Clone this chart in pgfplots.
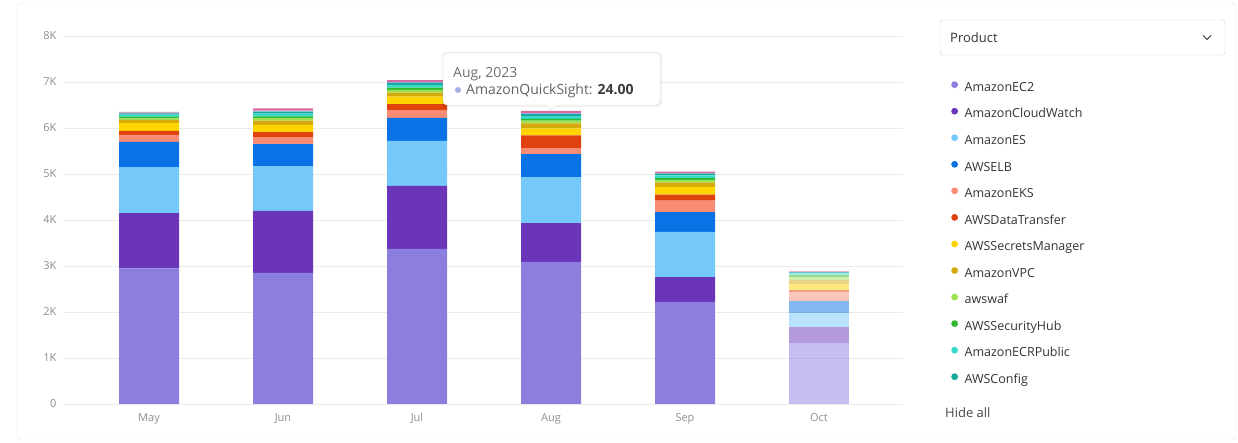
\documentclass[border=0pt]{standalone}
\usepackage{pgfplots}
\usepackage{pgfplotstable}
\pgfplotsset{compat=1.18}
\usepackage{fontspec}
\setmainfont{Open Sans}
\definecolor{cEC}{HTML}{8C7EDF}
\definecolor{cCW}{HTML}{6A35B8}
\definecolor{cES}{HTML}{74C8FA}
\definecolor{cELB}{HTML}{0B72E6}
\definecolor{cEKS}{HTML}{F98C74}
\definecolor{cDT}{HTML}{E0420F}
\definecolor{cSM}{HTML}{FFD400}
\definecolor{cVPC}{HTML}{D4A90C}
\definecolor{cWAF}{HTML}{9CE053}
\definecolor{cSH}{HTML}{2DB82D}
\definecolor{cECR}{HTML}{38DACC}
\definecolor{cCFG}{HTML}{17A899}
\definecolor{cQS}{HTML}{A6AEE6}
\definecolor{cOTH}{HTML}{D9689C}
\definecolor{gridc}{HTML}{EBEBEB}
\definecolor{tickc}{HTML}{8A8D93}
\definecolor{textc}{HTML}{333333}
\definecolor{cardc}{HTML}{E4E4E4}

\pgfplotstableread{
x  ec2  cw   es   elb  eks  dt   sm   vpc  waf  sh  ecr  cfg  qs  oth
0  2950 1200 1000 550  150  90   170  65   35   35  45   30   15  15
1  2850 1350 970  480  150  110  160  90   55   40  60   40   20  50
2  3370 1370 980  500  170  130  160  90   60   50  60   40   20  40
3  3090 840  1000 500  130  280  150  110  60   40  60   40   24  46
4  2220 540  980  430  250  130  170  90   60   40  60   40   10  30
}\maindata
\pgfplotstableread{
x  ec2  cw   es   elb  eks  dt   sm   vpc  waf  sh  ecr  cfg  qs  oth
5  1330 350  300  260  200  40   130  90   60   40  40   30   5   10
}\octdata

\begin{document}
\begin{tikzpicture}[x=1pt,y=1pt]
\path[use as bounding box] (0,0) rectangle (1238,443);
\draw[cardc, rounded corners=4pt] (17,3) rectangle (1236,440);

\pgfplotsset{
  commonax/.style={
    at={(63pt,39pt)}, anchor=south west,
    scale only axis, width=840pt, height=368pt,
    xmin=-0.642, xmax=5.627, ymin=0, ymax=8000,
    ybar stacked, bar width=60pt,
  }
}
\begin{axis}[commonax,
  axis line style={draw=none},
  major tick length=0pt,
  ymajorgrids, grid style={gridc, line width=0.8pt},
  ytick={0,1000,...,8000},
  yticklabels={0,1K,2K,3K,4K,5K,6K,7K,8K},
  xtick={0,1,2,3,4,5},
  xticklabels={May,Jun,Jul,Aug,Sep,Oct},
  /pgf/number format/assume math mode=true,
  yticklabel style={font=\fontsize{11}{13}\selectfont, color=tickc, anchor=east, xshift=-3pt},
  xticklabel style={font=\fontsize{11}{13}\selectfont, color=tickc, yshift=-6pt},
  legend image code/.code={\fill[#1] (3pt,3.5pt) circle (3.4pt); \path (12pt,3.5pt);},
  legend cell align=left,
  legend style={at={(rel axis cs:1.0536,0.883)}, anchor=north west, draw=none, fill=none,
    font=\fontsize{12.5}{14}\selectfont, text=textc, row sep=12.9pt,
    nodes={inner sep=1pt, text height=9pt, text depth=2.5pt}},
]
\addplot[fill=cEC, draw=none] table[x=x,y=ec2]{\maindata}; \addlegendentry{AmazonEC2}
\addplot[fill=cCW, draw=none] table[x=x,y=cw]{\maindata}; \addlegendentry{AmazonCloudWatch}
\addplot[fill=cES, draw=none] table[x=x,y=es]{\maindata}; \addlegendentry{AmazonES}
\addplot[fill=cELB, draw=none] table[x=x,y=elb]{\maindata}; \addlegendentry{AWSELB}
\addplot[fill=cEKS, draw=none] table[x=x,y=eks]{\maindata}; \addlegendentry{AmazonEKS}
\addplot[fill=cDT, draw=none] table[x=x,y=dt]{\maindata}; \addlegendentry{AWSDataTransfer}
\addplot[fill=cSM, draw=none] table[x=x,y=sm]{\maindata}; \addlegendentry{AWSSecretsManager}
\addplot[fill=cVPC, draw=none] table[x=x,y=vpc]{\maindata}; \addlegendentry{AmazonVPC}
\addplot[fill=cWAF, draw=none] table[x=x,y=waf]{\maindata}; \addlegendentry{awswaf}
\addplot[fill=cSH, draw=none] table[x=x,y=sh]{\maindata}; \addlegendentry{AWSSecurityHub}
\addplot[fill=cECR, draw=none] table[x=x,y=ecr]{\maindata}; \addlegendentry{AmazonECRPublic}
\addplot[fill=cCFG, draw=none] table[x=x,y=cfg]{\maindata}; \addlegendentry{AWSConfig}
\addplot[fill=cQS, draw=none, forget plot] table[x=x,y=qs]{\maindata};
\addplot[fill=cOTH, draw=none, forget plot] table[x=x,y=oth]{\maindata};
\end{axis}

\begin{axis}[commonax, hide axis]
\addplot[fill=cEC, draw=none, fill opacity=0.5] table[x=x,y=ec2]{\octdata};
\addplot[fill=cCW, draw=none, fill opacity=0.5] table[x=x,y=cw]{\octdata};
\addplot[fill=cES, draw=none, fill opacity=0.5] table[x=x,y=es]{\octdata};
\addplot[fill=cELB, draw=none, fill opacity=0.5] table[x=x,y=elb]{\octdata};
\addplot[fill=cEKS, draw=none, fill opacity=0.5] table[x=x,y=eks]{\octdata};
\addplot[fill=cDT, draw=none, fill opacity=0.5] table[x=x,y=dt]{\octdata};
\addplot[fill=cSM, draw=none, fill opacity=0.5] table[x=x,y=sm]{\octdata};
\addplot[fill=cVPC, draw=none, fill opacity=0.5] table[x=x,y=vpc]{\octdata};
\addplot[fill=cWAF, draw=none, fill opacity=0.5] table[x=x,y=waf]{\octdata};
\addplot[fill=cSH, draw=none, fill opacity=0.5] table[x=x,y=sh]{\octdata};
\addplot[fill=cECR, draw=none, fill opacity=0.5] table[x=x,y=ecr]{\octdata};
\addplot[fill=cCFG, draw=none, fill opacity=0.5] table[x=x,y=cfg]{\octdata};
\addplot[fill=cQS, draw=none, fill opacity=0.5] table[x=x,y=qs]{\octdata};
\addplot[fill=cOTH, draw=none, fill opacity=0.5] table[x=x,y=oth]{\octdata};
\end{axis}

% tooltip
\fill[black, opacity=0.06, rounded corners=4pt] (442,336) rectangle (662,391);
\filldraw[fill=white, draw=gridc!80!black!40, rounded corners=4pt] (443,338) rectangle (660,390);
\filldraw[fill=white, draw=gridc!80!black!40] (545,338.2) -- (551,333) -- (557,338.2);
\fill[white] (544.5,338.8) rectangle (557.5,340);
\node[anchor=base west, inner sep=0pt, font=\fontsize{14}{16}\selectfont, text=tickc!80!black] at (453,365) {Aug, 2023};
\fill[cQS] (458,353) circle (3pt);
\node[anchor=base west, inner sep=0pt, font=\fontsize{14}{16}\selectfont, text=tickc!70!black] at (466,348) {AmazonQuickSight: \textbf{\textcolor{textc!90!tickc}{24.00}}};

% dropdown
\draw[cardc!90!black, rounded corners=3pt] (940,388) rectangle (1225,423);
\node[anchor=base west, inner sep=0pt, font=\fontsize{13}{15}\selectfont, text=textc] at (950,400) {Product};
\draw[textc, line width=0.9pt] (1203,407.5) -- (1207,403.5) -- (1211,407.5);

\node[anchor=base west, inner sep=0pt, font=\fontsize{13}{15}\selectfont, text=textc!90!white] at (945,25) {Hide all};
\end{tikzpicture}
\end{document}
